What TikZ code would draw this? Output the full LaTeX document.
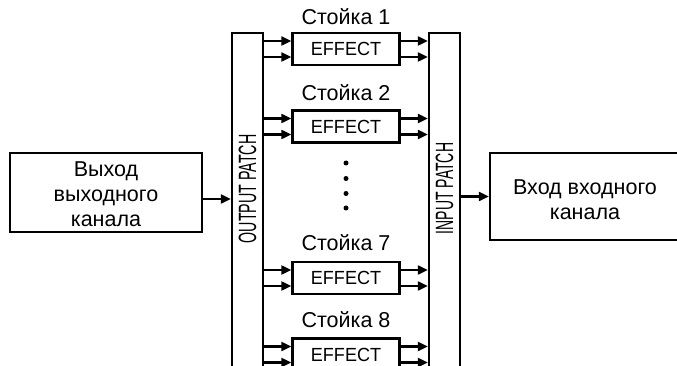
\documentclass[tikz,border=0pt]{standalone}
\usepackage{fontspec}
\setmainfont{Liberation Sans}
\usetikzlibrary{arrows.meta}
\begin{document}
\begin{tikzpicture}[x=1pt,y=-1pt,
  box/.style={draw, line width=2.4pt, inner sep=0pt, align=center},
  arr/.style={line width=2.2pt, -{Triangle[length=10pt,width=9pt]}},
  rack/.style={font=\fontsize{21.5}{25}\selectfont},
  eff/.style={box, minimum width=107pt, minimum height=32pt, font=\fontsize{19}{22}\selectfont},
  bar/.style={box, minimum width=31pt, minimum height=357pt},
  vlbl/.style={rotate=90, font=\fontsize{25}{28}\selectfont},
  big/.style={align=center, inner sep=0pt, font=\fontsize{21.5}{25}\selectfont},
  dot/.style={fill, circle, inner sep=0pt, minimum size=5pt}
]
\useasboundingbox (0,0) rectangle (677,366);
\clip (0,0) rectangle (677,366);

% patch bars
\node[bar] (outbar) at (247.5,211.5) {};
\node[bar] (inbar) at (444.5,211.5) {};
\node[vlbl] (outlbl) at (247.5,189) {\scalebox{0.57}[1]{OUTPUT PATCH}};
\node[vlbl] (inlbl) at (444.5,188.5) {\scalebox{0.56}[1]{INPUT PATCH}};

% side boxes
\node[box, minimum width=192pt, minimum height=79pt] (lbox) at (106,192.5) {};
\node[big] (ltxt) at (106,194.5) {Выход\\выходного\\канала};
\node[box, minimum width=190pt, minimum height=87pt] (rbox) at (585,196.5) {};
\node[big] (rtxt) at (585,200) {Вход входного\\канала};

% effect racks
\node[eff] (e1) at (346,49) {\scalebox{0.95}[1]{EFFECT}};
\node[eff] (e2) at (346,126.5) {\scalebox{0.95}[1]{EFFECT}};
\node[eff] (e7) at (346,278) {\scalebox{0.95}[1]{EFFECT}};
\node[eff] (e8) at (346,354.5) {\scalebox{0.95}[1]{EFFECT}};
\node[rack] (r1) at (346,17) {Стойка 1};
\node[rack] (r2) at (346,93) {Стойка 2};
\node[rack] (r7) at (346,243) {Стойка 7};
\node[rack] (r8) at (346,320) {Стойка 8};

% dots
\node[dot] (d1) at (346,163) {};
\node[dot] (d2) at (346,178.5) {};
\node[dot] (d3) at (346,193.5) {};
\node[dot] (d4) at (346,208) {};

% connectors
\foreach \e in {e1,e2,e7,e8}{
  \foreach \s/\n in {8/a,-8/b}{
    \coordinate (\e\n w) at ([yshift=\s pt]\e.west);
    \coordinate (\e\n e) at ([yshift=\s pt]\e.east);
    \draw[arr] (outbar.east |- \e\n w) -- (\e\n w);
    \draw[arr] (\e\n e) -- (\e\n e -| inbar.west);
  }
}
\coordinate (la) at ([yshift=-6.5pt]lbox.east);
\draw[arr] (la) -- (la -| outbar.west);
\draw[arr] (inbar.east |- rbox.west) -- (rbox.west);
\end{tikzpicture}
\end{document}
